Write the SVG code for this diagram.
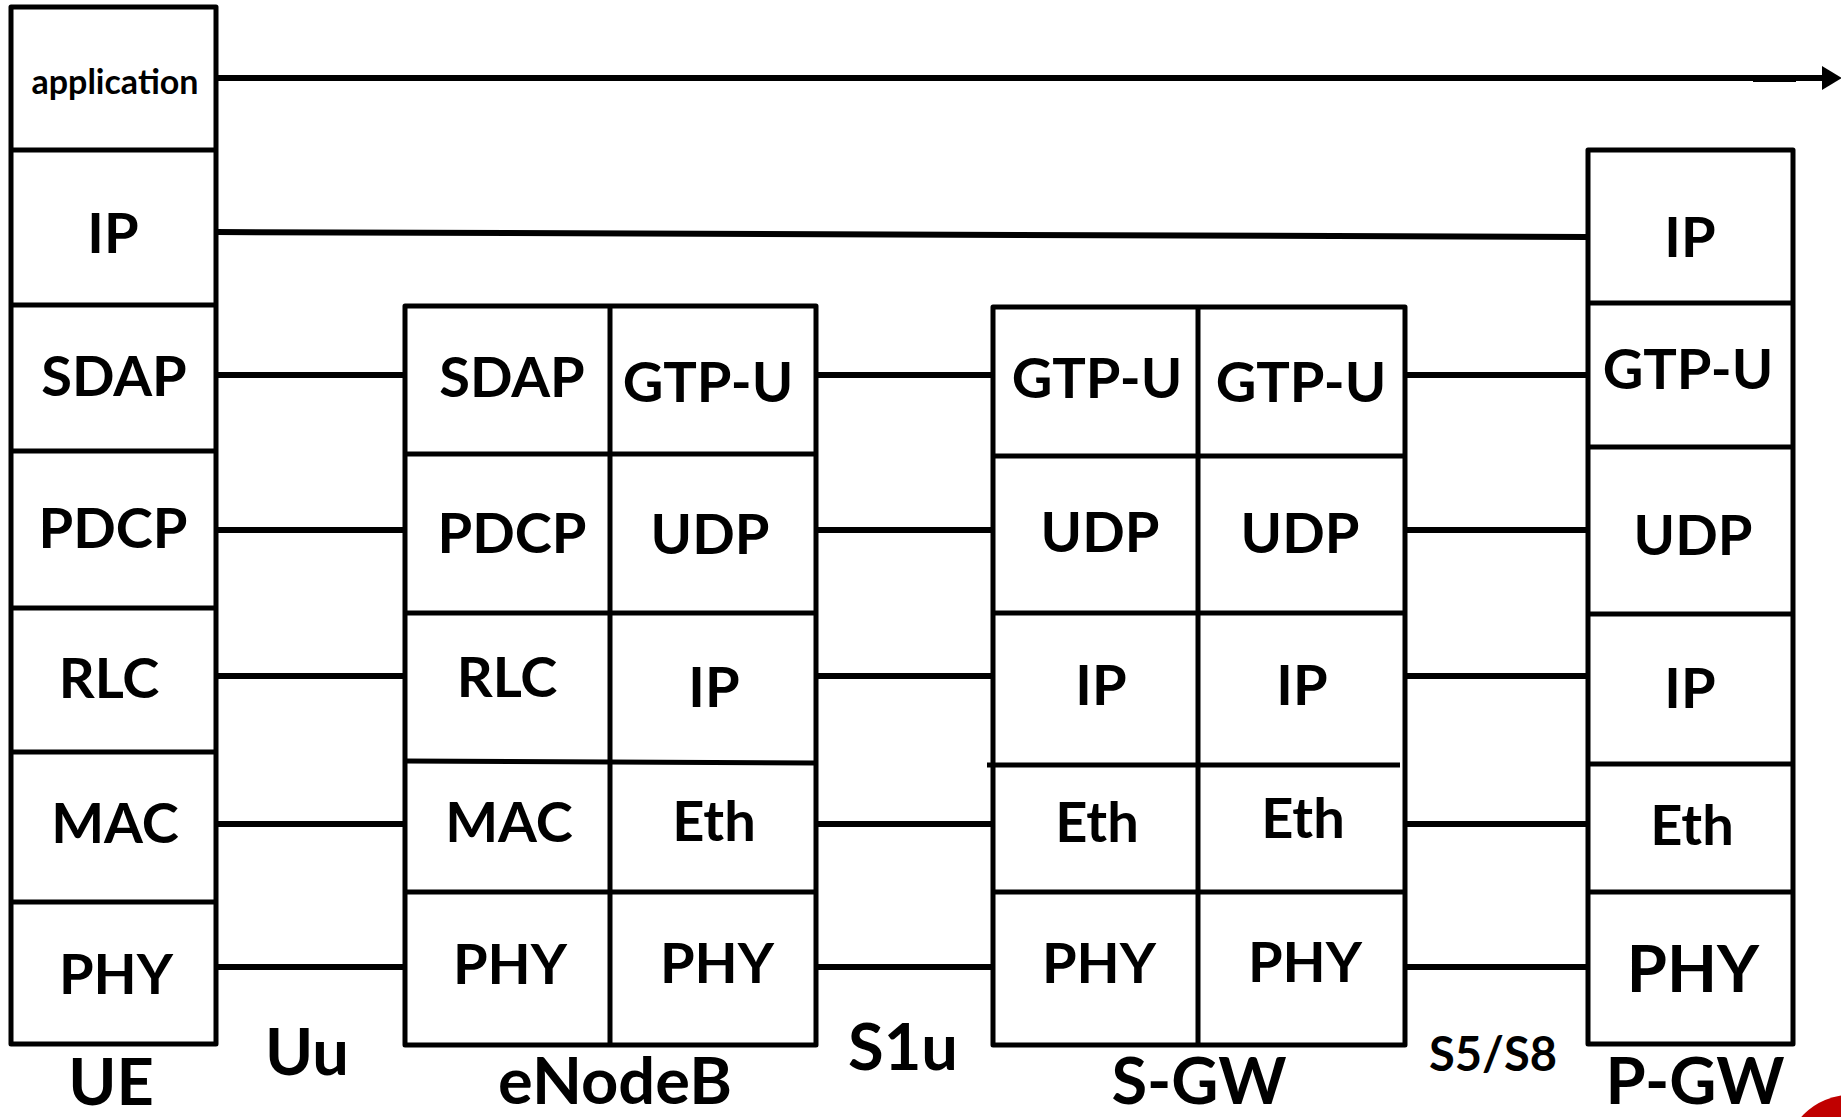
<svg xmlns="http://www.w3.org/2000/svg" width="1841" height="1117" viewBox="0 0 1841 1117">
  <defs>
    <style>
      .box { fill: #ffffff; stroke: #000000; stroke-width: 5; stroke-linejoin: round; }
      .div { stroke: #000000; stroke-width: 5; fill: none; }
      .link { stroke: #000000; stroke-width: 6; fill: none; }
      .lbl { font-family: Lato, "Open Sans", "Liberation Sans", sans-serif; font-weight: bold; font-size: 56px; fill: #000000; text-anchor: middle; }
      .big { font-size: 65px; }
      .small { font-size: 34px; }
      .mid { font-size: 47px; }
    </style>
    <marker id="arrowHead" markerWidth="20" markerHeight="26" refX="0" refY="12" orient="auto" markerUnits="userSpaceOnUse">
      <polygon points="0,0 20,12 0,24" fill="#000000"/>
    </marker>
  </defs>

  <rect width="1841" height="1117" fill="#ffffff"/>

  <!-- end-to-end links between the stacks -->
  <g id="connectors">
    <line class="link" x1="216" y1="78" x2="1822" y2="78" marker-end="url(#arrowHead)"/>
    <line class="link" x1="1753" y1="79" x2="1796" y2="79" stroke-width="7"/>
    <line class="link" x1="216" y1="232" x2="1588" y2="237"/>
    <!-- UE to eNodeB (Uu) -->
    <line class="link" x1="216" y1="375" x2="405" y2="375"/>
    <line class="link" x1="216" y1="530" x2="405" y2="530"/>
    <line class="link" x1="216" y1="676" x2="405" y2="676"/>
    <line class="link" x1="216" y1="824" x2="405" y2="824"/>
    <line class="link" x1="216" y1="967" x2="405" y2="967"/>
    <!-- eNodeB to S-GW (S1u) -->
    <line class="link" x1="816" y1="375" x2="993" y2="375"/>
    <line class="link" x1="816" y1="530" x2="993" y2="530"/>
    <line class="link" x1="816" y1="676" x2="993" y2="676"/>
    <line class="link" x1="816" y1="824" x2="993" y2="824"/>
    <line class="link" x1="816" y1="967" x2="993" y2="967"/>
    <!-- S-GW to P-GW (S5/S8) -->
    <line class="link" x1="1405" y1="375" x2="1588" y2="375"/>
    <line class="link" x1="1405" y1="530" x2="1588" y2="530"/>
    <line class="link" x1="1405" y1="676" x2="1588" y2="676"/>
    <line class="link" x1="1405" y1="824" x2="1588" y2="824"/>
    <line class="link" x1="1405" y1="967" x2="1588" y2="967"/>
  </g>

  <!-- UE protocol stack -->
  <g id="ue">
    <rect class="box" x="11" y="7" width="205" height="1037"/>
    <line class="div" x1="11" y1="150" x2="216" y2="150"/>
    <line class="div" x1="11" y1="305" x2="216" y2="305"/>
    <line class="div" x1="11" y1="451" x2="216" y2="451"/>
    <line class="div" x1="11" y1="608" x2="216" y2="608"/>
    <line class="div" x1="11" y1="752" x2="216" y2="752"/>
    <line class="div" x1="11" y1="902" x2="216" y2="902"/>
    <text class="lbl small" x="115" y="94">application</text>
    <text class="lbl" x="113" y="253">IP</text>
    <text class="lbl" x="114" y="396">SDAP</text>
    <text class="lbl" x="113" y="548">PDCP</text>
    <text class="lbl" x="109" y="698">RLC</text>
    <text class="lbl" x="115" y="843">MAC</text>
    <text class="lbl" x="116" y="994">PHY</text>
    <text class="lbl big" x="111" y="1105">UE</text>
  </g>

  <!-- eNodeB: radio side and transport side -->
  <g id="enodeb">
    <rect class="box" x="405" y="306" width="411" height="739"/>
    <line class="div" x1="610" y1="306" x2="610" y2="1045"/>
    <line class="div" x1="405" y1="454" x2="816" y2="454"/>
    <line class="div" x1="405" y1="613" x2="816" y2="613"/>
    <line class="div" x1="405" y1="761" x2="816" y2="763"/>
    <line class="div" x1="405" y1="892" x2="816" y2="892"/>
    <text class="lbl" x="512" y="397">SDAP</text>
    <text class="lbl" x="512" y="553">PDCP</text>
    <text class="lbl" x="507" y="697">RLC</text>
    <text class="lbl" x="509" y="842">MAC</text>
    <text class="lbl" x="510" y="984">PHY</text>
    <text class="lbl" x="708" y="402">GTP-U</text>
    <text class="lbl" x="710" y="554">UDP</text>
    <text class="lbl" x="714" y="707">IP</text>
    <text class="lbl" x="714" y="841">Eth</text>
    <text class="lbl" x="717" y="983">PHY</text>
    <text class="lbl big" x="615" y="1104">eNodeB</text>
  </g>

  <!-- S-GW: S1u side and S5/S8 side -->
  <g id="sgw">
    <rect class="box" x="993" y="307" width="412" height="738"/>
    <line class="div" x1="1198" y1="307" x2="1198" y2="1045"/>
    <line class="div" x1="993" y1="456" x2="1405" y2="456"/>
    <line class="div" x1="993" y1="613" x2="1405" y2="613"/>
    <line class="div" x1="987" y1="765" x2="1400" y2="765"/>
    <line class="div" x1="993" y1="892" x2="1405" y2="892"/>
    <text class="lbl" x="1097" y="398">GTP-U</text>
    <text class="lbl" x="1100" y="552">UDP</text>
    <text class="lbl" x="1101" y="705">IP</text>
    <text class="lbl" x="1097" y="842">Eth</text>
    <text class="lbl" x="1099" y="983">PHY</text>
    <text class="lbl" x="1301" y="402">GTP-U</text>
    <text class="lbl" x="1300" y="553">UDP</text>
    <text class="lbl" x="1302" y="705">IP</text>
    <text class="lbl" x="1303" y="838">Eth</text>
    <text class="lbl" x="1305" y="982">PHY</text>
    <text class="lbl big" x="1199" y="1104">S-GW</text>
  </g>

  <!-- P-GW protocol stack -->
  <g id="pgw">
    <rect class="box" x="1588" y="150" width="205" height="894"/>
    <line class="div" x1="1588" y1="303" x2="1793" y2="303"/>
    <line class="div" x1="1588" y1="447" x2="1793" y2="447"/>
    <line class="div" x1="1588" y1="614" x2="1793" y2="614"/>
    <line class="div" x1="1588" y1="764" x2="1793" y2="764"/>
    <line class="div" x1="1588" y1="892" x2="1793" y2="892"/>
    <text class="lbl" x="1690" y="257">IP</text>
    <text class="lbl" x="1688" y="389">GTP-U</text>
    <text class="lbl" x="1693" y="555">UDP</text>
    <text class="lbl" x="1690" y="708">IP</text>
    <text class="lbl" x="1692" y="845">Eth</text>
    <text class="lbl big" x="1693" y="992">PHY</text>
    <text class="lbl big" x="1695" y="1104">P-GW</text>
  </g>

  <!-- interface names -->
  <g id="interfaces">
    <text class="lbl big" x="307" y="1075">Uu</text>
    <text class="lbl big" x="903" y="1070">S1u</text>
    <text class="lbl mid" x="1493" y="1071">S5/S8</text>
  </g>

  <!-- red badge in the lower right corner -->
  <circle cx="1850" cy="1160" r="65" fill="#c00000"/>
</svg>
